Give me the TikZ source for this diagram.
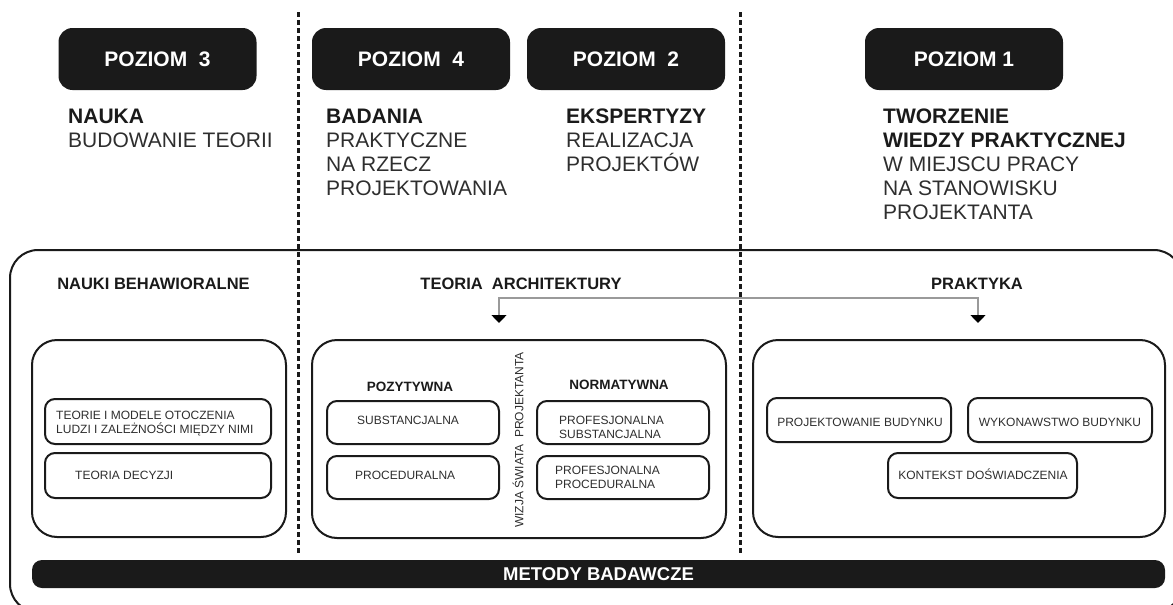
\documentclass[tikz,border=0pt]{standalone}
\usepackage{fontspec}
\setmainfont{Liberation Sans}
\usetikzlibrary{arrows.meta}

\definecolor{ink}{HTML}{1A1A1A}
\definecolor{soft}{HTML}{2E2E2E}
\definecolor{linkgray}{HTML}{9A9A9A}

\tikzset{
  levelbox/.style={fill=ink, draw=none, rounded corners=14pt, minimum width=198pt,
    minimum height=62pt, inner sep=0pt, text=white,
    font=\fontsize{21}{24}\selectfont\bfseries},
  headtext/.style={anchor=north west, inner sep=0pt, align=left, text=soft,
    font=\fontsize{21}{24}\selectfont},
  sectitle/.style={anchor=base, inner sep=0pt, text=ink,
    font=\fontsize{16.5}{18}\selectfont\bfseries},
  groupbox/.style={draw=ink, line width=2pt, rounded corners=25pt, inner sep=0pt},
  itembox/.style={draw=ink, line width=2pt, rounded corners=10pt, inner sep=0pt},
  itemtext/.style={inner sep=0pt, text=soft, align=left,
    font=\fontsize{12}{14}\selectfont},
  subhead/.style={anchor=base, inner sep=0pt, text=ink,
    font=\fontsize{13.5}{15}\selectfont\bfseries},
  divider/.style={draw=ink, line width=3pt, dash pattern=on 5pt off 3pt},
  link/.style={draw=linkgray, line width=1.5pt},
  tip/.tip={Triangle[color=black, width=15pt, length=8pt]},
}

\begin{document}
\begin{tikzpicture}[x=1pt, y=-1pt]
\useasboundingbox (0,0) rectangle (1173,605);

% column dividers
\draw[divider] (298,12) -- (298,553);
\draw[divider] (740,12) -- (740,553);

% level badges
\node[levelbox] (p3) at (157.5,59) {POZIOM\ \ 3};
\node[levelbox] (p4) at (411,59) {POZIOM\ \ 4};
\node[levelbox] (p2) at (626,59) {POZIOM\ \ 2};
\node[levelbox] (p1) at (964,59) {POZIOM 1};

% level descriptions
\node[headtext] (d3) at (68,109) {\textbf{\color{ink}NAUKA}\\BUDOWANIE TEORII};
\node[headtext] (d4) at (326,109) {\textbf{\color{ink}BADANIA}\\PRAKTYCZNE\\NA RZECZ\\PROJEKTOWANIA};
\node[headtext] (d2) at (566,109) {\textbf{\color{ink}EKSPERTYZY}\\REALIZACJA\\PROJEKTÓW};
\node[headtext] (d1) at (883,109) {\textbf{\color{ink}TWORZENIE}\\\textbf{\color{ink}WIEDZY PRAKTYCZNEJ}\\W MIEJSCU PRACY\\NA STANOWISKU\\PROJEKTANTA};

% outer frame
\node[draw=ink, line width=2pt, rounded corners=28pt, inner sep=0pt,
      minimum width=1172pt, minimum height=362pt] (frame) at (596,431) {};

% section titles
\node[sectitle] (tb) at (153.5,289) {NAUKI BEHAWIORALNE};
\node[sectitle] (ta) at (521,289) {TEORIA\ \ ARCHITEKTURY};
\node[sectitle] (tp) at (977,289) {PRAKTYKA};

% group boxes
\node[groupbox, minimum width=254pt, minimum height=197pt] (gb) at (159,438.5) {};
\node[groupbox, minimum width=414pt, minimum height=198pt] (ga) at (519,439) {};
\node[groupbox, minimum width=412pt, minimum height=197pt] (gp) at (959,438.5) {};

% link between theory and practice
\coordinate (tipL) at (499,323);
\coordinate (tipR) at (978,323);
\coordinate (jR) at (978,298);
\draw[link, tip-tip] (tipL) |- (jR) -- (tipR);

% behavioural sciences
\node[itembox, minimum width=226pt, minimum height=45pt] (b1) at (158,421.5) {};
\node[itembox, minimum width=226pt, minimum height=45pt] (b2) at (158,475.5) {};
\node[itemtext, anchor=north west] (b1t) at (56,411.4) {TEORIE I MODELE OTOCZENIA\\LUDZI I ZALEŻNOŚCI MIĘDZY NIMI};
\node[itemtext, anchor=base west] (b2t) at (75,479) {TEORIA DECYZJI};

% architectural theory
\node[subhead] (pos) at (410,391) {POZYTYWNA};
\node[subhead] (nor) at (619,389) {NORMATYWNA};
\node[itembox, minimum width=172pt, minimum height=43pt] (a1) at (413,422.5) {};
\node[itembox, minimum width=172pt, minimum height=43pt] (a2) at (413,477.5) {};
\node[itembox, minimum width=172pt, minimum height=43pt] (a3) at (623,422.5) {};
\node[itembox, minimum width=172pt, minimum height=43pt] (a4) at (623,477.5) {};
\node[itemtext, anchor=base west] (a1t) at (357,424) {SUBSTANCJALNA};
\node[itemtext, anchor=base west] (a2t) at (355,479) {PROCEDURALNA};
\node[itemtext, anchor=north west] (a3t) at (559,416.4) {PROFESJONALNA\\SUBSTANCJALNA};
\node[itemtext, anchor=north west, font=\fontsize{12}{13.5}\selectfont] (a4t) at (555,466.4) {PROFESJONALNA\\PROCEDURALNA};
\node[itemtext, rotate=90] (vis) at (518,440) {WIZJA ŚWIATA\ \ PROJEKTANTA};

% practice
\node[itembox, minimum width=184pt, minimum height=44pt] (r1) at (859,420) {};
\node[itembox, minimum width=184pt, minimum height=44pt] (r2) at (1060,420) {};
\node[itembox, minimum width=189pt, minimum height=45pt] (r3) at (982.5,475.5) {};
\node[itemtext, anchor=base] (r1t) at (860,426) {PROJEKTOWANIE BUDYNKU};
\node[itemtext, anchor=base] (r2t) at (1060,426) {WYKONAWSTWO BUDYNKU};
\node[itemtext, anchor=base] (r3t) at (983,479) {KONTEKST DOŚWIADCZENIA};

% research methods bar
\node[fill=ink, rounded corners=10pt, inner sep=0pt, minimum width=1133pt,
      minimum height=28pt, text=white, font=\fontsize{18.5}{20}\selectfont\bfseries]
      (bar) at (598.5,574) {METODY BADAWCZE};
\end{tikzpicture}
\end{document}
